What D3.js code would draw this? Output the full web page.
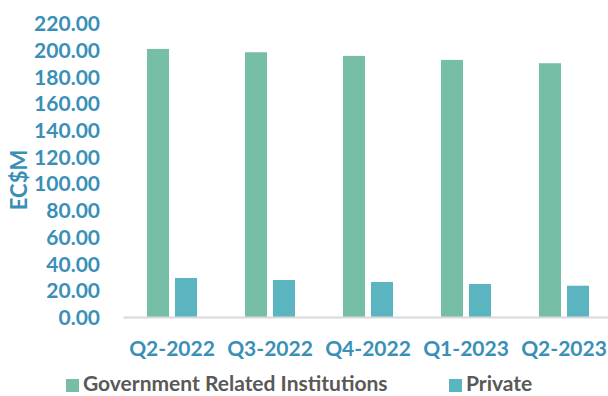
<!DOCTYPE html>
<html lang="en">
<head>
  <title>GRI vs Private</title>
  <script src="https://d3js.org/d3.v7.min.js"></script>
  <style>
    body { margin: 0; background: #fff; }
  </style>
</head>
<body>
  <script>
    // values (EC$M)
    var quarters = ["Q2-2022", "Q3-2022", "Q4-2022", "Q1-2023", "Q2-2023"];
    var seriesNames = ["Government Related Institutions", "Private"];
    var griValues = [200.6, 198.1, 195.4, 192.4, 189.9];
    var privateValues = [29.2, 27.7, 26.2, 24.7, 23.4];
    var yTicks = [0, 20, 40, 60, 80, 100, 120, 140, 160, 180, 200, 220];
    var colors = ["#76BEA6", "#5AB5C0"];

    var width = 608, height = 396;
    var font = "Lato, 'Open Sans', sans-serif";

    var svg = d3.select("body").append("svg")
        .attr("width", width)
        .attr("height", height);

    var x = d3.scaleBand().domain(quarters).range([123, 613]);
    var xInner = d3.scaleBand().domain(seriesNames).range([24, 74]).paddingInner(0.214);
    var y = d3.scaleLinear().domain([0, 220]).range([317, 23]);

    var rows = quarters.map(function(q, i) {
      return { q: q, vals: [griValues[i], privateValues[i]] };
    });

    // bars
    var groups = svg.selectAll(".grp")
        .data(rows)
        .enter().append("g")
        .attr("class", "grp")
        .attr("transform", function(d) { return "translate(" + x(d.q) + ",0)"; });

    groups.selectAll("rect")
        .data(function(d) { return d.vals.map(function(v, j) { return { s: seriesNames[j], v: v, j: j }; }); })
        .enter().append("rect")
        .attr("x", function(d) { return xInner(d.s); })
        .attr("width", xInner.bandwidth())
        .attr("y", function(d) { return y(d.v); })
        .attr("height", function(d) { return y(0) - y(d.v); })
        .attr("fill", function(d) { return colors[d.j]; });

    // y axis labels (no line)
    var yAxis = svg.append("g")
        .attr("transform", "translate(100,0)")
        .call(d3.axisLeft(y).tickValues(yTicks).tickFormat(d3.format(".2f")).tickSize(0).tickPadding(0));
    yAxis.select(".domain").remove();
    yAxis.selectAll("text")
        .attr("font-family", font)
        .attr("font-weight", "bold")
        .attr("font-size", 21)
        .attr("fill", "#3A8FB7")
        .attr("dy", "0.36em");

    // x axis
    var xAxis = svg.append("g")
        .attr("transform", "translate(0," + y(0) + ")")
        .call(d3.axisBottom(x).tickSize(0).tickPadding(24));
    xAxis.select(".domain")
        .attr("stroke", "#D9D9D9")
        .attr("stroke-width", 2);
    xAxis.selectAll("text")
        .attr("font-family", font)
        .attr("font-weight", "bold")
        .attr("font-size", 21)
        .attr("fill", "#3A8FB7");

    // y title
    svg.append("text")
        .attr("transform", "translate(27,180) rotate(-90)")
        .attr("text-anchor", "middle")
        .attr("font-family", font)
        .attr("font-weight", "bold")
        .attr("font-size", 22)
        .attr("fill", "#3A8FB7")
        .text("EC$M");

    // legend
    var legendX = [66, 449];
    var legend = svg.selectAll(".leg")
        .data(seriesNames)
        .enter().append("g")
        .attr("class", "leg")
        .attr("transform", function(d, i) { return "translate(" + legendX[i] + ",379)"; });
    legend.append("rect")
        .attr("width", 13).attr("height", 13)
        .attr("fill", function(d, i) { return colors[i]; });
    legend.append("text")
        .attr("x", 17)
        .attr("y", 12)
        .attr("font-family", font)
        .attr("font-weight", "bold")
        .attr("font-size", 21)
        .attr("fill", "#595959")
        .text(function(d) { return d; });
  </script>
</body>
</html>
